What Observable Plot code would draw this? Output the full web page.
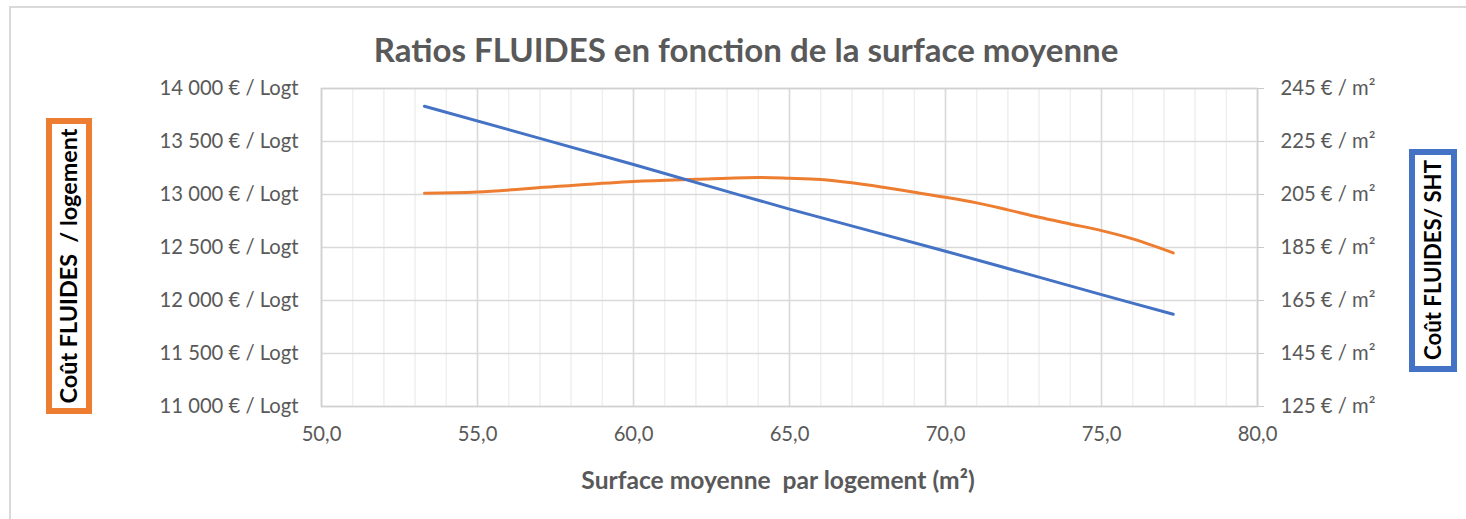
<!DOCTYPE html>
<html><head><meta charset="utf-8">
<script src="https://cdn.jsdelivr.net/npm/d3@7"></script>
<script src="https://cdn.jsdelivr.net/npm/@observablehq/plot@0.6"></script>
<style>
body{margin:0;background:#fff;}
#wrap{position:relative;width:1466px;height:519px;overflow:hidden;font-family:Lato,"Open Sans",sans-serif;background:#fff;}
#frame{position:absolute;left:9px;top:6px;width:1480px;height:530px;border-left:2px solid #d9d9d9;border-top:2px solid #d9d9d9;}
#chart{position:absolute;left:0;top:0;}
.lbl{position:absolute;white-space:nowrap;line-height:1;transform:translate(-50%,-50%);}
.box{position:absolute;box-sizing:border-box;background:#fff;}
</style>
</head><body>
<div id="wrap">
  <div id="frame"></div>
  <div id="chart"></div>
  <div class="lbl" id="title" style="left:746px;top:50px;color:#595959;font-weight:700;">Ratios FLUIDES en fonction de la surface moyenne</div>
  <div class="lbl" id="xlab" style="left:778px;top:480px;color:#595959;font-weight:700;">Surface moyenne&nbsp; par logement (m²)</div>
  <div class="box" style="left:46px;top:118px;width:46px;height:296px;border:6px solid #ED7D31;"></div>
  <div class="lbl" id="ylab" style="left:69px;top:266px;color:#000;font-weight:700;transform:translate(-50%,-50%) rotate(-90deg);">Coût FLUIDES&nbsp; / logement</div>
  <div class="box" style="left:1409px;top:149px;width:48px;height:223px;border:6px solid #4472C4;"></div>
  <div class="lbl" id="y2lab" style="left:1433px;top:260px;color:#000;font-weight:700;transform:translate(-50%,-50%) rotate(-90deg);">Coût FLUIDES/ SHT</div>
</div>
<script>
// ---- data ----
const orangeX = [53.3, 55, 57.5, 60, 62, 64, 65, 66, 67, 68, 69, 70, 71, 72, 73, 74, 75, 76, 77.3];
const orangeY = [13011, 13024, 13075, 13122, 13143, 13160, 13153, 13141, 13110, 13068, 13021, 12974, 12921, 12855, 12785, 12722, 12659, 12581, 12449]; // € / logement (left axis)
const blueX = [53.3, 60, 65, 70, 75, 77.3];
const blueY = [238.3, 216.3, 199.5, 183.6, 167.2, 159.8]; // € / m² (right axis)
const xTicks = [50, 55, 60, 65, 70, 75, 80];
const xMinor = [50,51,52,53,54,55,56,57,58,59,60,61,62,63,64,65,66,67,68,69,70,71,72,73,74,75,76,77,78,79,80];
const yLeftTicks = [11000, 11500, 12000, 12500, 13000, 13500, 14000];
const yRightTicks = [125, 145, 165, 185, 205, 225, 245];

// right axis maps linearly onto the left axis domain
const R0 = 125, R1 = 245, L0 = 11000, L1 = 14000;
const toLeft = v => L0 + (v - R0) * (L1 - L0) / (R1 - R0);
const toRight = v => R0 + (v - L0) * (R1 - R0) / (L1 - L0);

const orange = orangeX.map((x, i) => ({x, y: orangeY[i]}));
const blue = blueX.map((x, i) => ({x, y: toLeft(blueY[i])}));

// fit font sizes to widths measured on the reference
const ctx = document.createElement("canvas").getContext("2d");
function fitSize(text, weight, family, target) {
  ctx.font = `${weight} 100px ${family}`;
  return 100 * target / ctx.measureText(text).width;
}
const FAM = 'Lato, "Open Sans", sans-serif';
const fmtLeft = d => d3.format(",")(d).replace(/,/g, " ") + " € / Logt";
const fmtRight = d => `${Math.round(toRight(d))} € / m²`;
const tickSize = fitSize(fmtLeft(14000), 400, FAM, 139);

function setFit(id, target) {
  const el = document.getElementById(id);
  el.style.fontSize = fitSize(el.textContent, 700, FAM, target) + "px";
}
setFit("title", 745);
setFit("xlab", 394);
setFit("ylab", 275);
setFit("y2lab", 200);

const chart = Plot.plot({
  width: 1466, height: 519,
  marginLeft: 321, marginRight: 209, marginTop: 88, marginBottom: 113,
  x: {domain: [50, 80]},
  y: {domain: [L0, L1]},
  style: {fontFamily: FAM, fontSize: tickSize + "px", color: "#595959", background: "transparent"},
  marks: [
    Plot.gridX(xMinor, {stroke: "#efefef", strokeOpacity: 1, strokeWidth: 1.5}),
    Plot.gridX(xTicks, {stroke: "#d9d9d9", strokeOpacity: 1, strokeWidth: 1.5}),
    Plot.gridY(yLeftTicks, {stroke: "#d9d9d9", strokeOpacity: 1, strokeWidth: 1.5}),
    Plot.frame({stroke: "#d0d0d0", strokeWidth: 1.5}),
    Plot.axisX(xTicks, {tickFormat: d => d.toFixed(1).replace(".", ","), tickSize: 0, tickPadding: 20, label: null, fill: "#595959"}),
    Plot.axisY(yLeftTicks, {anchor: "left", tickFormat: fmtLeft, tickSize: 0, tickPadding: 23, label: null, fill: "#595959"}),
    Plot.axisY(yRightTicks.map(toLeft), {anchor: "right", tickFormat: fmtRight, tickSize: 6, tickPadding: 17, label: null, stroke: "#c8c8c8", fill: "#595959"}),
    Plot.line(orange, {x: "x", y: "y", curve: "catmull-rom", stroke: "#ED7D31", strokeWidth: 3}),
    Plot.line(blue, {x: "x", y: "y", curve: "catmull-rom", stroke: "#4472C4", strokeWidth: 3})
  ]
});
document.getElementById("chart").append(chart);
</script>
</body></html>
